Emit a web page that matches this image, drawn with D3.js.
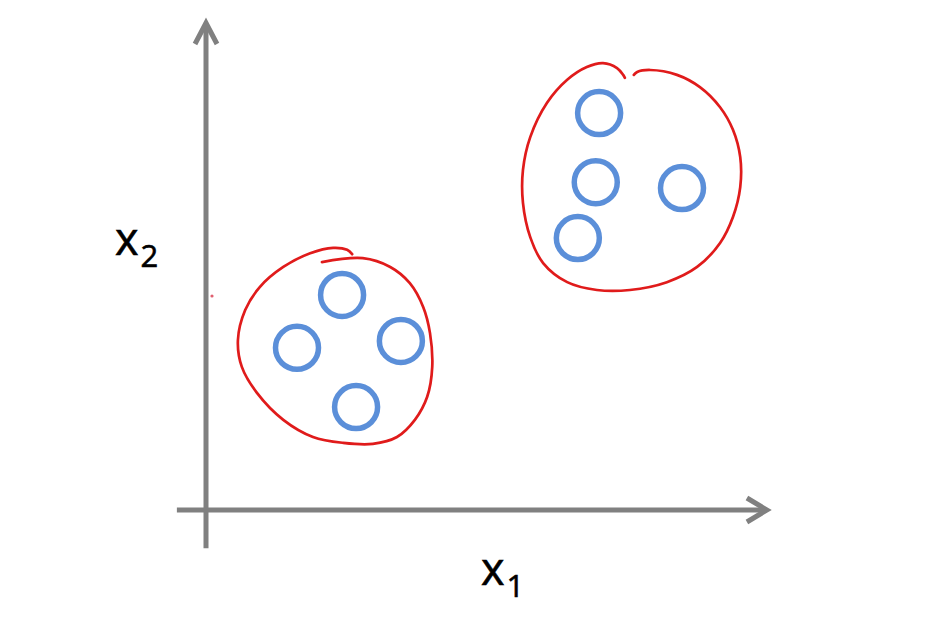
<!DOCTYPE html>
<html><head><meta charset="utf-8">
<script src="https://cdn.jsdelivr.net/npm/d3@7"></script>
<style>html,body{margin:0;padding:0;background:#fff;}svg{display:block;}</style>
</head><body>
<svg id="chart" width="930" height="622"></svg>
<script>
// Cluster A points (x1, x2)
const clusterA = [[2.43,4.39],[1.625,3.31],[3.48,3.45],[2.68,2.10]];
// Cluster B points
const clusterB = [[7.02,8.10],[6.96,6.69],[8.50,6.57],[6.64,5.55]];
// hand-drawn boundary around cluster A
const loopA = [[2.07,5.06],[2.80,5.14],[3.29,4.96],[3.64,4.63],[3.88,4.14],[4.00,3.61],[4.04,2.92],[3.95,2.31],[3.73,1.84],[3.41,1.49],[2.98,1.35],[2.45,1.37],[1.91,1.49],[1.38,1.84],[0.91,2.39],[0.64,2.92],[0.57,3.47],[0.70,4.08],[0.96,4.55],[1.38,4.96],[1.86,5.24],[2.27,5.35],[2.52,5.31],[2.61,5.22]];
// hand-drawn boundary around cluster B
const loopB = [[7.64,8.88],[7.70,8.94],[7.93,8.98],[8.41,8.88],[8.82,8.63],[9.18,8.22],[9.41,7.76],[9.54,7.20],[9.54,6.59],[9.41,5.98],[9.18,5.45],[8.77,4.96],[8.23,4.65],[7.57,4.49],[6.98,4.49],[6.45,4.65],[6.02,5.04],[5.79,5.57],[5.66,6.27],[5.66,6.94],[5.79,7.61],[6.09,8.31],[6.45,8.78],[6.80,9.04],[7.09,9.12],[7.34,9.02],[7.45,8.88],[7.48,8.82]];
const xAxisExtent = [-0.52, 10.07];
const yAxisExtent = [-0.78, 10];
const xLabel = {base:"x", sub:"1"};
const yLabel = {base:"x", sub:"2"};

const svg = d3.select("#chart");
const x = d3.scaleLinear().domain([0,10]).range([206,766]);
const y = d3.scaleLinear().domain([0,10]).range([510,20]);
const grey = "#808080";

// axes
const axG = svg.append("g").attr("stroke", grey).attr("stroke-width", 5).attr("fill","none").attr("stroke-linecap","butt");
axG.append("line").attr("x1", x(0)).attr("x2", x(0)).attr("y1", y(yAxisExtent[0])).attr("y2", y(yAxisExtent[1])+3);
axG.append("line").attr("x1", x(xAxisExtent[0])).attr("x2", x(xAxisExtent[1])-3).attr("y1", y(0)).attr("y2", y(0));
// arrow heads
const tipY = [x(0), y(yAxisExtent[1])];
axG.append("path").attr("stroke-linejoin","miter")
  .attr("d", `M${tipY[0]-11},${tipY[1]+24} L${tipY[0]},${tipY[1]+3} L${tipY[0]+11},${tipY[1]+24}`);
const tipX = [x(xAxisExtent[1]), y(0)];
axG.append("path").attr("stroke-linejoin","miter")
  .attr("d", `M${tipX[0]-23},${tipX[1]-12} L${tipX[0]-3},${tipX[1]} L${tipX[0]-23},${tipX[1]+12}`);

// loops
const line = d3.line().x(d=>x(d[0])).y(d=>y(d[1])).curve(d3.curveCatmullRom.alpha(0.5));
[loopA, loopB].forEach(L => {
  svg.append("path").attr("d", line(L)).attr("fill","none")
    .attr("stroke","#e01b1b").attr("stroke-width",2.7).attr("stroke-linecap","round");
});

// points
svg.append("g").selectAll("circle").data(clusterA.concat(clusterB)).join("circle")
  .attr("cx", d=>x(d[0])).attr("cy", d=>y(d[1])).attr("r", 21.5)
  .attr("fill","none").attr("stroke","#5b8fd9").attr("stroke-width",5.5);

// small stray mark
svg.append("circle").attr("cx", x(0)+6).attr("cy", 296).attr("r",1.6).attr("fill","#e06070");

// labels
function label(lbl, px, py) {
  const t = svg.append("text").attr("x", px).attr("y", py)
    .attr("font-family","'Open Sans', 'DejaVu Sans', sans-serif").attr("fill","#000")
    .attr("stroke","#000").attr("stroke-width",0.6);
  t.append("tspan").attr("font-size", 45).text(lbl.base);
  t.append("tspan").attr("font-size", 31).attr("dy", 12).attr("dx", 2).text(lbl.sub);
}
label(yLabel, 115, 255);
label(xLabel, 481, 585);
</script>
</body></html>
